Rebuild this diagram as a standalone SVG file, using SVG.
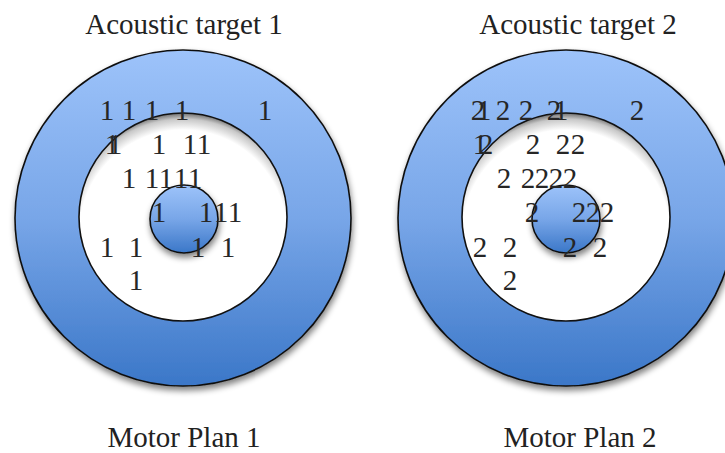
<svg xmlns="http://www.w3.org/2000/svg" width="725" height="453" viewBox="0 0 725 453" font-family="'Liberation Serif', 'DejaVu Serif', serif">
  <style>
    text { font-family: 'Liberation Serif', 'Times New Roman', Times, 'DejaVu Serif', serif; font-size: 29px; }
    .t { fill: #222; }
    .d { fill: #262626; text-anchor: middle; }
    .ring { fill: url(#blue); stroke: #111; stroke-width: 1.6; filter: url(#shadow); }
    .hole { fill: url(#inner); stroke: #111; stroke-width: 1.6; }
    .core { fill: url(#blue); stroke: #111; stroke-width: 1.6; filter: url(#shadow); }
  </style>
  <defs>
    <linearGradient id="blue" x1="0" y1="0" x2="0" y2="1">
      <stop offset="0" stop-color="#9dc3fa"/>
      <stop offset="0.5" stop-color="#78a6e8"/>
      <stop offset="1" stop-color="#3b77c8"/>
    </linearGradient>
    <radialGradient id="inner" cx="0.5" cy="0.58" r="0.58" gradientUnits="objectBoundingBox">
      <stop offset="0" stop-color="#ffffff"/>
      <stop offset="0.86" stop-color="#ffffff"/>
      <stop offset="0.95" stop-color="#c8c8c8"/>
      <stop offset="1" stop-color="#6e6e6e"/>
    </radialGradient>
    <filter id="shadow" x="-20%" y="-20%" width="140%" height="150%">
      <feGaussianBlur in="SourceAlpha" stdDeviation="3"/>
      <feOffset dx="1" dy="4"/>
      <feComponentTransfer><feFuncA type="linear" slope="0.5"/></feComponentTransfer>
      <feMerge><feMergeNode/><feMergeNode in="SourceGraphic"/></feMerge>
    </filter>
  </defs>

  <g id="target1">
    <circle class="ring" cx="183" cy="218" r="168"/>
    <circle class="hole" cx="183" cy="217" r="104"/>
    <circle class="core" cx="184" cy="219" r="34"/>
  </g>

  <g id="target2">
    <circle class="ring" cx="566" cy="218" r="168"/>
    <circle class="hole" cx="566" cy="217" r="104"/>
    <circle class="core" cx="566" cy="219" r="34"/>
  </g>

  <g id="labels">
    <text class="t" x="184" y="34" text-anchor="middle">Acoustic target 1</text>
    <text class="t" x="578" y="34" text-anchor="middle">Acoustic target 2</text>
    <text class="t" x="184" y="447" text-anchor="middle">Motor Plan 1</text>
    <text class="t" x="580" y="447" text-anchor="middle">Motor Plan 2</text>
  </g>

  <g id="samples1">
    <text class="d" x="107" y="120">1</text>
    <text class="d" x="129" y="120">1</text>
    <text class="d" x="152" y="120">1</text>
    <text class="d" x="182" y="120">1</text>
    <text class="d" x="265" y="120">1</text>
    <text class="d" x="112" y="154">1</text>
    <text class="d" x="115" y="154">1</text>
    <text class="d" x="159" y="154">1</text>
    <text class="d" x="190" y="154">1</text>
    <text class="d" x="204" y="154">1</text>
    <text class="d" x="129" y="188">1</text>
    <text class="d" x="152" y="188">1</text>
    <text class="d" x="166" y="188">1</text>
    <text class="d" x="181" y="188">1</text>
    <text class="d" x="195" y="188">1</text>
    <text class="d" x="159" y="222">1</text>
    <text class="d" x="206" y="222">1</text>
    <text class="d" x="221" y="222">1</text>
    <text class="d" x="235" y="222">1</text>
    <text class="d" x="107" y="257">1</text>
    <text class="d" x="136" y="257">1</text>
    <text class="d" x="198" y="257">1</text>
    <text class="d" x="228" y="257">1</text>
    <text class="d" x="136" y="290">1</text>
  </g>

  <g id="samples2">
    <text class="d" x="478" y="120">2</text>
    <text class="d" x="484" y="120">1</text>
    <text class="d" x="503" y="120">2</text>
    <text class="d" x="526" y="120">2</text>
    <text class="d" x="554" y="120">2</text>
    <text class="d" x="561" y="120">1</text>
    <text class="d" x="637" y="120">2</text>
    <text class="d" x="480" y="154">1</text>
    <text class="d" x="486" y="154">2</text>
    <text class="d" x="533" y="154">2</text>
    <text class="d" x="563" y="154">2</text>
    <text class="d" x="578" y="154">2</text>
    <text class="d" x="504" y="188">2</text>
    <text class="d" x="528" y="188">2</text>
    <text class="d" x="542" y="188">2</text>
    <text class="d" x="556" y="188">2</text>
    <text class="d" x="570" y="188">2</text>
    <text class="d" x="532" y="222">2</text>
    <text class="d" x="579" y="222">2</text>
    <text class="d" x="593" y="222">2</text>
    <text class="d" x="607" y="222">2</text>
    <text class="d" x="480" y="257">2</text>
    <text class="d" x="510" y="257">2</text>
    <text class="d" x="570" y="257">2</text>
    <text class="d" x="600" y="257">2</text>
    <text class="d" x="510" y="290">2</text>
  </g>
</svg>
